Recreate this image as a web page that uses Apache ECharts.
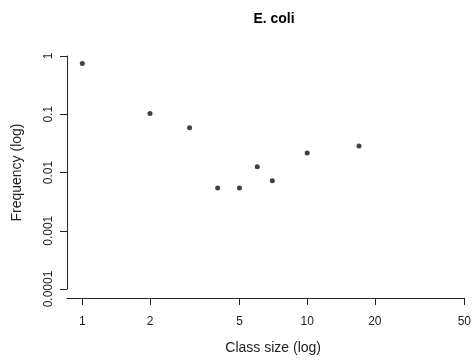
<!DOCTYPE html>
<html>
<head>
<meta charset="utf-8">
<script src="https://cdn.jsdelivr.net/npm/echarts@6/dist/echarts.min.js"></script>
<style>html,body{margin:0;padding:0;background:#fff}#c{width:474px;height:360px}</style>
</head>
<body>
<div id="c"></div>
<script>
const classSize = [1, 2, 3, 4, 5, 6, 7, 10, 17];
const frequency = [0.74, 0.103, 0.0585, 0.0054, 0.0054, 0.0126, 0.0072, 0.0216, 0.0284];
const xTicks = [1, 2, 5, 10, 20, 50];
const xTickLabels = ['1', '2', '5', '10', '20', '50'];
const yTicks = [1, 0.1, 0.01, 0.001, 0.0001];
const yTickLabels = ['1', '0.1', '0.01', '0.001', '0.0001'];

function lab(ticks, labels) {
  return function (v) {
    for (let i = 0; i < ticks.length; i++) {
      if (Math.abs(Math.log10(v) - Math.log10(ticks[i])) < 1e-6) return labels[i];
    }
    return '';
  };
}

const font = 'Liberation Sans, Arial, Helvetica, sans-serif';
const chart = echarts.init(document.getElementById('c'), null, {renderer: 'canvas'});
chart.setOption({
  animation: false,
  backgroundColor: '#fff',
  title: {
    text: 'E. coli',
    left: 274, top: 12, padding: 0, textAlign: 'center',
    textStyle: {fontFamily: font, fontSize: 14, fontWeight: 'bold', color: '#000'}
  },
  grid: {left: 67, right: 8, top: 56, bottom: 71, containLabel: false},
  xAxis: {
    type: 'log', logBase: 10, min: 0.855, max: 50.001,
    offset: 9,
    name: 'Class size (log)', nameLocation: 'middle', nameGap: 43,
    nameTextStyle: {fontFamily: font, fontSize: 14, color: '#222', padding: [0, 0, 0, 15]},
    axisLine: {show: true, lineStyle: {color: '#222', width: 1}},
    axisTick: {show: true, length: 7, customValues: xTicks, lineStyle: {color: '#222'}},
    axisLabel: {customValues: xTicks, formatter: lab(xTicks, xTickLabels), margin: 18,
      fontFamily: font, fontSize: 12, color: '#222'},
    splitLine: {show: false}, minorTick: {show: false}
  },
  yAxis: {
    type: 'log', logBase: 10, min: 0.0001, max: 1,
    name: 'Frequency (log)', nameLocation: 'middle', nameGap: 43, nameRotate: 90,
    nameTextStyle: {fontFamily: font, fontSize: 14, color: '#222'},
    axisLine: {show: true, lineStyle: {color: '#222', width: 1}},
    axisTick: {show: true, length: 7, customValues: yTicks, lineStyle: {color: '#222'}},
    axisLabel: {customValues: yTicks, formatter: lab(yTicks, yTickLabels), rotate: 90, margin: 12,
      fontFamily: font, fontSize: 12, color: '#222'},
    splitLine: {show: false}, minorTick: {show: false}
  },
  series: [{
    type: 'scatter',
    data: classSize.map((x, i) => [x, frequency[i]]),
    symbol: 'circle', symbolSize: 5,
    itemStyle: {color: '#111'}
  }]
});
</script>
</body>
</html>
